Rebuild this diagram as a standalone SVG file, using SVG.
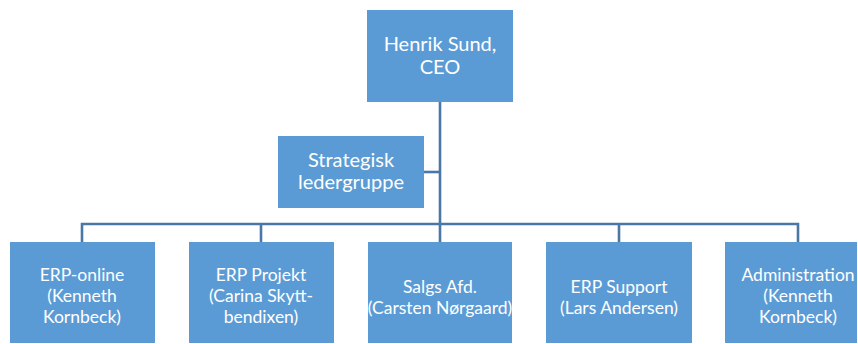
<svg xmlns="http://www.w3.org/2000/svg" width="858" height="344" viewBox="0 0 858 344">
<style>
.box{fill:#5b9bd5;}
.t{font-family:Lato,"Liberation Sans",sans-serif;fill:#ffffff;text-anchor:middle;}
.big{font-size:20px;}
.sm{font-size:17.5px;}
.c{stroke:#4a77a6;stroke-width:2.6;fill:none;}
</style>
<rect width="858" height="344" fill="#ffffff"/>
<g id="connectors">
<path class="c" d="M440 102V224"/>
<path class="c" d="M424 172H440"/>
<path class="c" d="M82 242V224H798V242"/>
<path class="c" d="M261 224V242M440 224V242M619 224V242"/>
</g>
<g id="ceo">
<rect class="box" x="367" y="10" width="146" height="92"/>
<text class="t big" x="440" y="51">Henrik Sund,</text>
<text class="t big" x="440" y="74">CEO</text>
</g>
<g id="strategisk">
<rect class="box" x="278" y="136" width="146" height="72"/>
<text class="t big" x="351" y="167">Strategisk</text>
<text class="t big" x="351" y="189">ledergruppe</text>
</g>
<g id="erp-online">
<rect class="box" x="10" y="242" width="145" height="101"/>
<text class="t sm" x="82" y="281">ERP-online</text>
<text class="t sm" x="82" y="302">(Kenneth</text>
<text class="t sm" x="82" y="323">Kornbeck)</text>
</g>
<g id="erp-projekt">
<rect class="box" x="189" y="242" width="145" height="101"/>
<text class="t sm" x="261" y="281">ERP Projekt</text>
<text class="t sm" x="261" y="302">(Carina Skytt-</text>
<text class="t sm" x="261" y="323">bendixen)</text>
</g>
<g id="salgs">
<rect class="box" x="368" y="242" width="144" height="101"/>
<text class="t sm" x="440" y="293">Salgs Afd.</text>
<text class="t sm" x="440" y="314">(Carsten Nørgaard)</text>
</g>
<g id="erp-support">
<rect class="box" x="546" y="242" width="146" height="101"/>
<text class="t sm" x="619" y="293">ERP Support</text>
<text class="t sm" x="619" y="314">(Lars Andersen)</text>
</g>
<g id="administration">
<rect class="box" x="725" y="242" width="132" height="101"/>
<text class="t sm" x="798" y="281">Administration</text>
<text class="t sm" x="798" y="302">(Kenneth</text>
<text class="t sm" x="798" y="323">Kornbeck)</text>
</g>
</svg>
